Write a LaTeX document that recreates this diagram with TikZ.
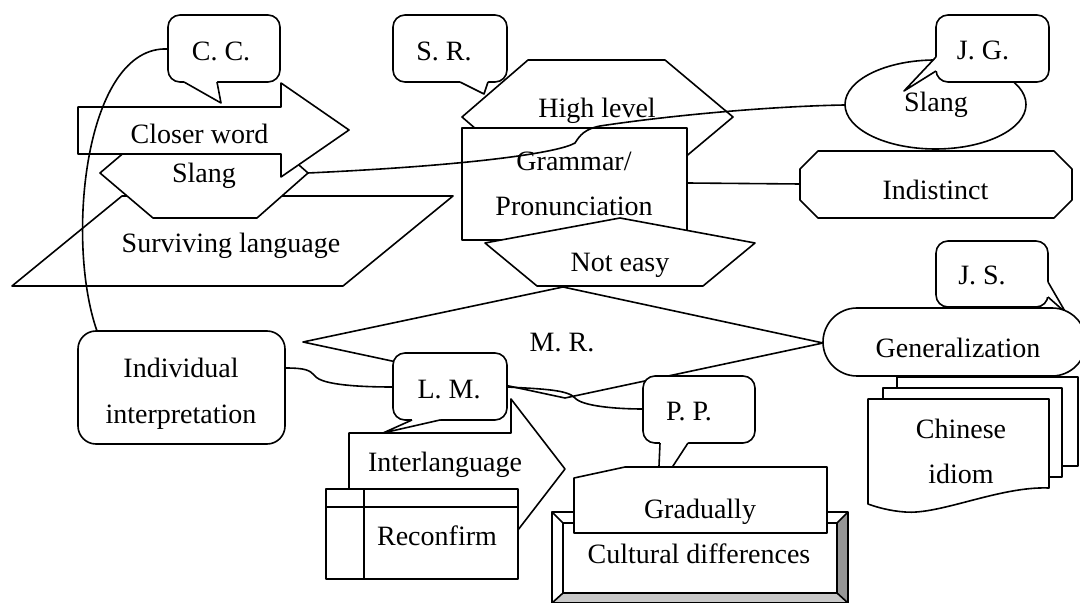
\documentclass[tikz,border=0pt]{standalone}
\usepackage{fontspec}
\setmainfont{Liberation Serif}
\definecolor{bevDark}{RGB}{150,150,150}
\definecolor{bevLight}{RGB}{200,200,200}
\tikzset{
  shp/.style={draw=black, fill=white, line width=0.8pt, line join=round},
  con/.style={draw=black, line width=0.8pt, line join=round},
  lbl/.style={anchor=base, inner sep=0pt, align=center, font=\fontsize{14}{22.5}\selectfont},
}
\begin{document}
\begin{tikzpicture}[x=0.5pt,y=-0.5pt]
\useasboundingbox (0,0) rectangle (1080,603);

% Surviving language (parallelogram)
\draw[shp] (12,286) -- (122,196) -- (453,196) -- (343,286) -- cycle;
% Slang hexagon
\draw[shp] (100,173) -- (153,128) -- (257,128) -- (308,173) -- (257,218) -- (153,218) -- cycle;
% Closer word arrow
\draw[shp] (78,107) -- (281,107) -- (281,83) -- (349,130) -- (281,177) -- (281,154) -- (78,154) -- cycle;
% C.C. callout
\draw[shp, rounded corners=6pt] (168,15) rectangle (280,82);
\fill[white] (184,79) -- (184,82) -- (221,103) -- (217,82) -- (217,79) -- cycle;
\draw[con] (184,82) -- (221,103) -- (217,82);

% High level hexagon
\draw[shp] (462,117) -- (528,60) -- (665,60) -- (733,117) -- (665,174) -- (528,174) -- cycle;
% S.R. callout
\draw[shp, rounded corners=6pt] (393,15) rectangle (507,82);
\fill[white] (460,79) -- (460,82) -- (484,94) -- (488,82) -- (488,79) -- cycle;
\draw[con] (460,82) -- (484,94) -- (488,82);
% Grammar rectangle
\draw[shp] (462,128) rectangle (687,240);
% M.R. diamond
\draw[shp] (563,287) -- (823,343) -- (565,398) -- (303,342) -- cycle;
% Not easy
\draw[shp] (620,218) -- (755,243) -- (703,286) -- (537,286) -- (485,243) -- cycle;

% Slang ellipse
\draw[shp] (935.5,104.5) ellipse [x radius=45.25pt, y radius=22.25pt];
% J.G. callout
\draw[shp, rounded corners=6pt] (936,15) rectangle (1049,82);
\fill[white] (939,57) -- (936,57) -- (904,91) -- (936,71) -- (939,71) -- cycle;
\draw[con] (936,57) -- (904,91) -- (936,71);
% Indistinct
\draw[shp] (818,151) -- (1054,151) -- (1072,169) -- (1072,200) -- (1054,218) -- (818,218) -- (800,200) -- (800,169) -- cycle;

% J.S. callout
\draw[shp, rounded corners=6pt] (936,241) rectangle (1048,307);
\fill[white] (1045,282) -- (1048,282) -- (1066,313) -- (1048,297) -- (1045,297) -- cycle;
\draw[con] (1048,282) -- (1066,313) -- (1048,297);
% Chinese idiom (multi-document)
\draw[shp] (897,377) rectangle (1078,466);
\draw[shp] (883,388) rectangle (1062,477);
\draw[shp] (868,399) -- (1049,399) -- (1049,488) .. controls (1000,486) and (940,515) .. (905,512) .. controls (890,511) and (876,507) .. (868,504) -- cycle;
% Generalization
\draw[shp, rounded corners=17pt] (823,308) rectangle (1086,376);

% Individual interpretation
\draw[shp, rounded corners=9pt] (78,331) rectangle (285,444);
% Interlanguage arrow
\draw[shp] (349,433) -- (511,433) -- (511,399) -- (565,469) -- (511,539) -- (511,505) -- (349,505) -- cycle;
% L.M. callout
\draw[shp, rounded corners=6pt] (393,353) rectangle (507,420);
\fill[white] (412,417) -- (412,420) -- (383,433) -- (440,420) -- (440,417) -- cycle;
\draw[con] (412,420) -- (383,433) -- (440,420);
% Reconfirm (internal storage)
\draw[shp] (326,489) rectangle (518,579);
\draw[con] (326,507) -- (518,507);
\draw[con] (364,489) -- (364,579);

% Cultural differences (bevel)
\fill[white] (552,512) rectangle (848,603);
\fill[bevDark] (848,512) -- (848,603) -- (837,593) -- (837,523) -- cycle;
\fill[bevLight] (552,603) -- (848,603) -- (837,593) -- (563,593) -- cycle;
\draw[con] (552,512) rectangle (848,603);
\draw[con] (563,523) rectangle (837,593);
\draw[con] (552,512) -- (563,523) (848,512) -- (837,523) (552,603) -- (563,593) (848,603) -- (837,593);
% P.P. callout
\draw[shp, rounded corners=6pt] (643,376) rectangle (755,443);
\fill[white] (660,440) -- (660,443) -- (658,489) -- (688,443) -- (688,440) -- cycle;
\draw[con] (660,443) -- (658,489) -- (688,443);
% Gradually (manual input)
\draw[shp] (574,478) -- (625,467) -- (827,467) -- (827,533) -- (574,533) -- cycle;

% connector end points
\coordinate (ccW) at (168,49);
\coordinate (indN) at (97,331);
\coordinate (slangE) at (308,173);
\coordinate (ellW) at (845,105);
\coordinate (gramE) at (687,183);
\coordinate (indiW) at (800,184);
\coordinate (indE) at (285,368);
\coordinate (lmW) at (393,387);
\coordinate (lmE) at (507,387);
\coordinate (ppW) at (643,409);

% connectors
\draw[con] (ccW) .. controls (85,45) and (65,240) .. (indN);
\draw[con] (slangE) .. controls (480,165) and (560,152) .. (575,143) .. controls (580,135) and (585,129) .. (600,126) .. controls (680,114) and (780,106) .. (ellW);
\draw[con] (gramE) -- (indiW);
\draw[con] (indE) .. controls (305,368) and (310,370) .. (315,376) .. controls (322,385) and (360,387) .. (lmW);
\draw[con] (lmE) .. controls (545,389) and (568,390) .. (575,398) .. controls (582,406) and (615,409) .. (ppW);

% labels (multi-line labels are anchored at the baseline of their last line)
\node[lbl] (cc) at (221,61) {C. C.};
\node[lbl] (closer) at (199.5,144) {Closer word};
\node[lbl] (slangL) at (204,183) {Slang};
\node[lbl] (surv) at (231,253) {Surviving language};
\node[lbl] (sr) at (444,61) {S. R.};
\node[lbl] (high) at (597,118) {High level};
\node[lbl] (gram) at (574,216) {Grammar/\\Pronunciation};
\node[lbl] (noteasy) at (620,272) {Not easy};
\node[lbl] (jg) at (983,60) {J. G.};
\node[lbl] (slangR) at (936,112) {Slang};
\node[lbl] (indist) at (935.5,200) {Indistinct};
\node[lbl] (js) at (982,285) {J. S.};
\node[lbl] (gen) at (958,358) {Generalization};
\node[lbl] (chin) at (961,483) {Chinese\\idiom};
\node[lbl] (mr) at (562,352) {M. R.};
\node[lbl] (lm) at (449,399) {L. M.};
\node[lbl] (indiv) at (181,423) {Individual\\interpretation};
\node[lbl] (pp) at (689,421) {P. P.};
\node[lbl] (inter) at (445,472) {Interlanguage};
\node[lbl] (reconf) at (437,545) {Reconfirm};
\node[lbl] (grad) at (700,518) {Gradually};
\node[lbl] (cult) at (699,563) {Cultural differences};
\end{tikzpicture}
\end{document}
